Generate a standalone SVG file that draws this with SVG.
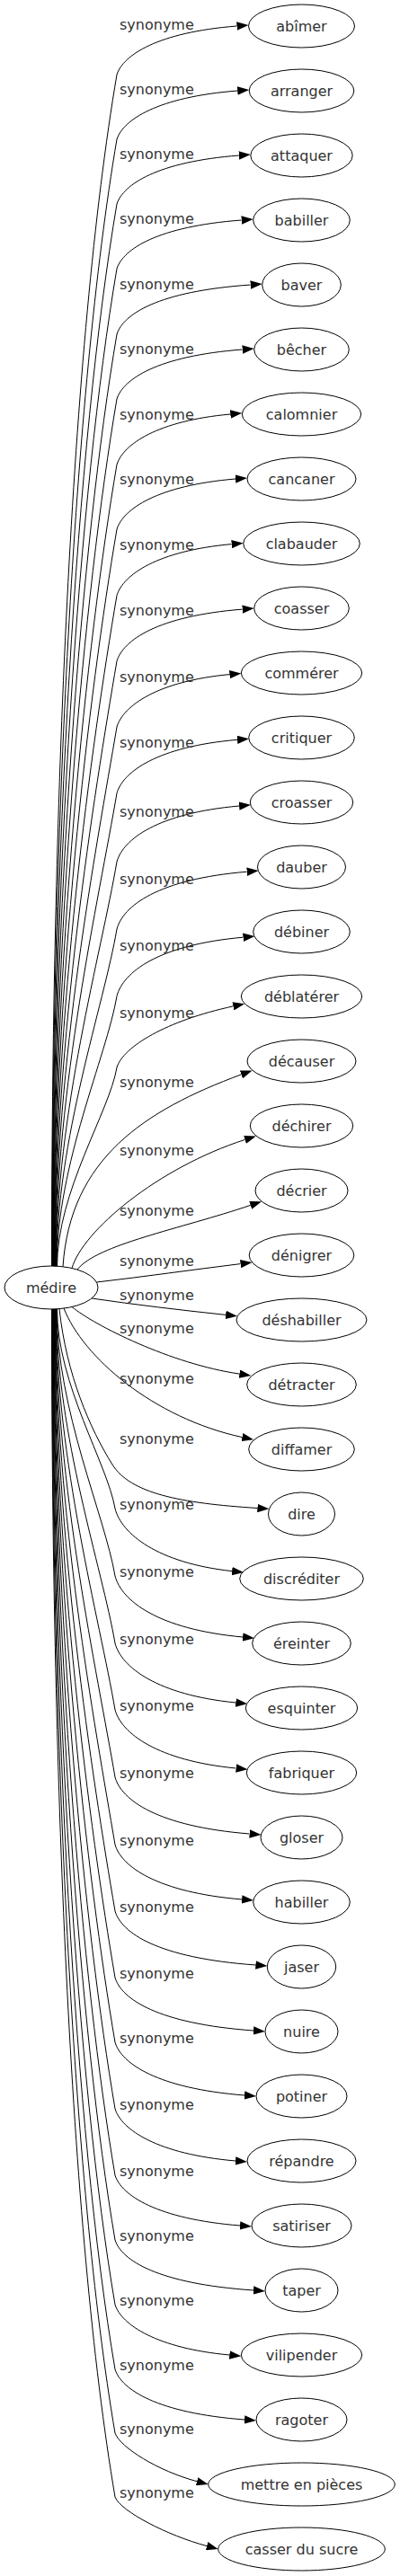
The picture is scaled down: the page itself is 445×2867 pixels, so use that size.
<svg xmlns="http://www.w3.org/2000/svg" width="445" height="2867" viewBox="0 0 445 2867">
<defs>
<marker id="arr" markerUnits="userSpaceOnUse" markerWidth="13" markerHeight="9.4" viewBox="0 0 13 9.4" refX="0" refY="4.7" orient="auto">
<path d="M0,0 L13,4.7 L0,9.4 z" fill="#000"/>
</marker>
</defs>
<style>
text { font-family: "DejaVu Sans", Verdana, sans-serif; font-size: 16px; fill: #333; }
.node ellipse { fill: #fff; stroke: #000; stroke-width: 1; }
.node text { text-anchor: middle; }
#edges path { fill: none; stroke: #000; stroke-width: 1; marker-end: url(#arr); }
</style>
<rect width="445" height="2867" fill="#fff"/>
<g id="edges">
<path d="M57.5,1410 C57.5,905.7 79,382.9 130,83 C137,61.4 175,36 263.5,29"/>
<path d="M57.9,1410 C57.9,933.1 81.8,438.6 130,155 C137,133.4 175,108 264.2,101"/>
<path d="M58.3,1410 C58.3,960.5 84.6,494.4 130,227 C137,205.4 175,180 265.8,173"/>
<path d="M58.7,1410 C58.7,987.8 87.3,550.1 130,299 C137,277.4 175,252 268.7,245"/>
<path d="M59.1,1410 C59.1,1015.6 90.1,606.6 130,372 C137,350 175,324.2 278.7,317"/>
<path d="M59.5,1410 C59.5,1042.9 92.9,662.3 130,444 C137,422 175,396.2 269.7,389"/>
<path d="M59.9,1410 C59.9,1070.7 95.7,718.8 130,517 C137,494.6 175,468.3 256.3,461"/>
<path d="M60.3,1410 C60.3,1098 98.5,774.5 130,589 C137,566.6 175,540.3 262,533"/>
<path d="M60.7,1410 C60.7,1126 101.3,831.5 130,662.6 C137,639.8 175,613 257.7,605.6"/>
<path d="M61.1,1410 C61.1,1153.8 104.1,888.1 130,735.7 C137,712.7 175,685.6 269.7,678.1"/>
<path d="M61.5,1410 C61.5,1181.6 106.9,944.8 130,809 C137,785.6 175,758.2 255.4,750.6"/>
<path d="M61.9,1410 C61.9,1209.6 109.8,1001.9 130,882.7 C137,858.9 175,831 264,823.3"/>
<path d="M62.3,1410 C62.3,1238.6 112.7,1060.9 130,959 C137,934.2 175,905.1 266.1,897"/>
<path d="M62.7,1410 C62.7,1267.1 115.6,1119 130,1034 C137,1008.5 175,978.5 274.7,970.2"/>
<path d="M63.1,1410 C63.1,1295.4 118.4,1176.6 130,1108.5 C137,1082.4 175,1051.7 270.5,1043.2"/>
<path d="M63.5,1410 C63.5,1325.6 121.5,1238.2 130,1188 C137,1165 185,1136 259.4,1119.9"/>
<path d="M70,1409.8 C78,1290 160,1236 268.4,1195.9"/>
<path d="M80,1411.5 C92,1370 175,1300 272.5,1268.4"/>
<path d="M86,1413 C108,1385 200,1368 278.7,1341.4"/>
<path d="M107.5,1427 C160,1421 215,1413 267.6,1406.6"/>
<path d="M102,1445 C150,1452 200,1458 251.1,1463.4"/>
<path d="M80,1454.5 C105,1475 190,1518 266.4,1529.1"/>
<path d="M71,1456 C92,1510 170,1578 269.4,1599.6"/>
<path d="M66,1457 C74,1530 100,1590 125,1630 C145,1662 200,1673 286.4,1678.5"/>
<path d="M63.5,1457 C63.5,1540.7 119.4,1628.6 128,1679 C135,1706.8 175,1739.6 258.1,1748.6"/>
<path d="M63.1,1457 C63.1,1569.2 116.6,1686.7 128,1754 C135,1781.2 175,1813.2 270.1,1822"/>
<path d="M62.7,1457 C62.7,1597.7 113.7,1744.7 128,1829 C135,1855.4 175,1886.4 262.3,1895"/>
<path d="M62.3,1457 C62.3,1625.9 110.8,1802 128,1903 C135,1929 175,1959.5 262.6,1968"/>
<path d="M61.9,1457 C61.9,1654.4 108,1860 128,1978 C135,2003.2 175,2032.8 277.6,2041"/>
<path d="M61.5,1457 C61.5,1682.9 105.1,1918.1 128,2053 C135,2077.4 175,2106.1 269.1,2114"/>
<path d="M61.1,1457 C61.1,1711 102.2,1975.4 128,2127 C135,2151 175,2179.2 284.4,2187"/>
<path d="M60.7,1457 C60.7,1739.1 99.4,2032.6 128,2201 C135,2224.6 175,2252.3 282,2260"/>
<path d="M60.3,1457 C60.3,1766.5 96.6,2088.4 128,2273 C135,2296.6 175,2324.3 272,2332"/>
<path d="M59.9,1457 C59.9,1794.6 93.8,2145.6 128,2347 C135,2370.2 175,2397.5 262,2405"/>
<path d="M59.5,1457 C59.5,1822.7 90.9,2202.9 128,2421 C135,2443.4 175,2469.7 267,2477"/>
<path d="M59.1,1457 C59.1,1850.1 88.2,2258.6 128,2493 C135,2515.4 175,2541.7 282,2549"/>
<path d="M58.7,1457 C58.7,1877.4 85.4,2314.4 128,2565 C135,2587.4 175,2613.7 255.3,2621"/>
<path d="M58.3,1457 C58.3,1904.8 82.6,2370.1 128,2637 C135,2659.4 175,2685.7 272,2693"/>
<path d="M57.9,1457 C57.9,1931.8 79.9,2425 128,2708 C134,2724 175.6,2750 219.1,2761.7"/>
<path d="M57.5,1457 C57.5,1958.7 77.2,2480 128,2779 C134,2795 186.6,2822 230.1,2833.6"/>
<text x="133" y="32.5">synonyme</text>
<text x="133" y="104.5">synonyme</text>
<text x="133" y="176.5">synonyme</text>
<text x="133" y="248.5">synonyme</text>
<text x="133" y="321.5">synonyme</text>
<text x="133" y="393.5">synonyme</text>
<text x="133" y="466.5">synonyme</text>
<text x="133" y="538.5">synonyme</text>
<text x="133" y="612.1">synonyme</text>
<text x="133" y="685.2">synonyme</text>
<text x="133" y="758.5">synonyme</text>
<text x="133" y="832.2">synonyme</text>
<text x="133" y="908.5">synonyme</text>
<text x="133" y="983.5">synonyme</text>
<text x="133" y="1058">synonyme</text>
<text x="133" y="1132.5">synonyme</text>
<text x="133" y="1209.5">synonyme</text>
<text x="133" y="1285.5">synonyme</text>
<text x="133" y="1352.5">synonyme</text>
<text x="133" y="1408.5">synonyme</text>
<text x="133" y="1446.5">synonyme</text>
<text x="133" y="1483.5">synonyme</text>
<text x="133" y="1539.5">synonyme</text>
<text x="133" y="1606.5">synonyme</text>
<text x="133" y="1679.5">synonyme</text>
<text x="133" y="1754.5">synonyme</text>
<text x="133" y="1829.5">synonyme</text>
<text x="133" y="1903.5">synonyme</text>
<text x="133" y="1978.5">synonyme</text>
<text x="133" y="2053.5">synonyme</text>
<text x="133" y="2127.5">synonyme</text>
<text x="133" y="2201.5">synonyme</text>
<text x="133" y="2273.5">synonyme</text>
<text x="133" y="2347.5">synonyme</text>
<text x="133" y="2421.5">synonyme</text>
<text x="133" y="2493.5">synonyme</text>
<text x="133" y="2565.5">synonyme</text>
<text x="133" y="2637.5">synonyme</text>
<text x="133" y="2708.5">synonyme</text>
<text x="133" y="2779.5">synonyme</text>
</g>
<g id="n-medire" class="node"><ellipse cx="57" cy="1433" rx="52" ry="24"/><text x="57" y="1438.5">médire</text></g>
<g id="n-abimer" class="node"><ellipse cx="335.5" cy="29" rx="59" ry="24"/><text x="335.5" y="34.5">abîmer</text></g>
<g id="n-arranger" class="node"><ellipse cx="335.5" cy="101" rx="58.3" ry="24"/><text x="335.5" y="106.5">arranger</text></g>
<g id="n-attaquer" class="node"><ellipse cx="335.5" cy="173" rx="56.7" ry="24"/><text x="335.5" y="178.5">attaquer</text></g>
<g id="n-babiller" class="node"><ellipse cx="335.5" cy="245" rx="53.8" ry="24"/><text x="335.5" y="250.5">babiller</text></g>
<g id="n-baver" class="node"><ellipse cx="335.5" cy="317" rx="43.8" ry="24"/><text x="335.5" y="322.5">baver</text></g>
<g id="n-becher" class="node"><ellipse cx="335.5" cy="389" rx="52.8" ry="24"/><text x="335.5" y="394.5">bêcher</text></g>
<g id="n-calomnier" class="node"><ellipse cx="335.5" cy="461" rx="66.2" ry="24"/><text x="335.5" y="466.5">calomnier</text></g>
<g id="n-cancaner" class="node"><ellipse cx="335.5" cy="533" rx="60.5" ry="24"/><text x="335.5" y="538.5">cancaner</text></g>
<g id="n-clabauder" class="node"><ellipse cx="335.5" cy="605" rx="64.8" ry="24"/><text x="335.5" y="610.5">clabauder</text></g>
<g id="n-coasser" class="node"><ellipse cx="335.5" cy="677" rx="52.8" ry="24"/><text x="335.5" y="682.5">coasser</text></g>
<g id="n-commerer" class="node"><ellipse cx="335.5" cy="749" rx="67.2" ry="24"/><text x="335.5" y="754.5">commérer</text></g>
<g id="n-critiquer" class="node"><ellipse cx="335.5" cy="821" rx="58.8" ry="24"/><text x="335.5" y="826.5">critiquer</text></g>
<g id="n-croasser" class="node"><ellipse cx="335.5" cy="893" rx="57.2" ry="24"/><text x="335.5" y="898.5">croasser</text></g>
<g id="n-dauber" class="node"><ellipse cx="335.5" cy="965" rx="49" ry="24"/><text x="335.5" y="970.5">dauber</text></g>
<g id="n-debiner" class="node"><ellipse cx="335.5" cy="1037" rx="53.8" ry="24"/><text x="335.5" y="1042.5">débiner</text></g>
<g id="n-deblaterer" class="node"><ellipse cx="335.5" cy="1109" rx="67.2" ry="24"/><text x="335.5" y="1114.5">déblatérer</text></g>
<g id="n-decauser" class="node"><ellipse cx="335.5" cy="1181" rx="60.5" ry="24"/><text x="335.5" y="1186.5">décauser</text></g>
<g id="n-dechirer" class="node"><ellipse cx="335.5" cy="1253" rx="57.2" ry="24"/><text x="335.5" y="1258.5">déchirer</text></g>
<g id="n-decrier" class="node"><ellipse cx="335.5" cy="1325" rx="51.5" ry="24"/><text x="335.5" y="1330.5">décrier</text></g>
<g id="n-denigrer" class="node"><ellipse cx="335.5" cy="1397" rx="58.3" ry="24"/><text x="335.5" y="1402.5">dénigrer</text></g>
<g id="n-deshabiller" class="node"><ellipse cx="335.5" cy="1469" rx="72.5" ry="24"/><text x="335.5" y="1474.5">déshabiller</text></g>
<g id="n-detracter" class="node"><ellipse cx="335.5" cy="1541" rx="60.8" ry="24"/><text x="335.5" y="1546.5">détracter</text></g>
<g id="n-diffamer" class="node"><ellipse cx="335.5" cy="1613" rx="58.8" ry="24"/><text x="335.5" y="1618.5">diffamer</text></g>
<g id="n-dire" class="node"><ellipse cx="335.5" cy="1685" rx="37" ry="24"/><text x="335.5" y="1690.5">dire</text></g>
<g id="n-discrediter" class="node"><ellipse cx="335.5" cy="1757" rx="68.8" ry="24"/><text x="335.5" y="1762.5">discréditer</text></g>
<g id="n-ereinter" class="node"><ellipse cx="335.5" cy="1829" rx="54.8" ry="24"/><text x="335.5" y="1834.5">éreinter</text></g>
<g id="n-esquinter" class="node"><ellipse cx="335.5" cy="1901" rx="62.2" ry="24"/><text x="335.5" y="1906.5">esquinter</text></g>
<g id="n-fabriquer" class="node"><ellipse cx="335.5" cy="1973" rx="61.2" ry="24"/><text x="335.5" y="1978.5">fabriquer</text></g>
<g id="n-gloser" class="node"><ellipse cx="335.5" cy="2045" rx="45.5" ry="24"/><text x="335.5" y="2050.5">gloser</text></g>
<g id="n-habiller" class="node"><ellipse cx="335.5" cy="2117" rx="53.8" ry="24"/><text x="335.5" y="2122.5">habiller</text></g>
<g id="n-jaser" class="node"><ellipse cx="335.5" cy="2189" rx="38.2" ry="24"/><text x="335.5" y="2194.5">jaser</text></g>
<g id="n-nuire" class="node"><ellipse cx="335.5" cy="2261" rx="40.5" ry="24"/><text x="335.5" y="2266.5">nuire</text></g>
<g id="n-potiner" class="node"><ellipse cx="335.5" cy="2333" rx="50.5" ry="24"/><text x="335.5" y="2338.5">potiner</text></g>
<g id="n-repandre" class="node"><ellipse cx="335.5" cy="2405" rx="60.5" ry="24"/><text x="335.5" y="2410.5">répandre</text></g>
<g id="n-satiriser" class="node"><ellipse cx="335.5" cy="2477" rx="55.5" ry="24"/><text x="335.5" y="2482.5">satiriser</text></g>
<g id="n-taper" class="node"><ellipse cx="335.5" cy="2549" rx="40.5" ry="24"/><text x="335.5" y="2554.5">taper</text></g>
<g id="n-vilipender" class="node"><ellipse cx="335.5" cy="2621" rx="67.2" ry="24"/><text x="335.5" y="2626.5">vilipender</text></g>
<g id="n-ragoter" class="node"><ellipse cx="335.5" cy="2693" rx="50.5" ry="24"/><text x="335.5" y="2698.5">ragoter</text></g>
<g id="n-mettre-en-pieces" class="node"><ellipse cx="335.5" cy="2765" rx="103.8" ry="24"/><text x="335.5" y="2770.5">mettre en pièces</text></g>
<g id="n-casser-du-sucre" class="node"><ellipse cx="335.5" cy="2837" rx="92.8" ry="24"/><text x="335.5" y="2842.5">casser du sucre</text></g>
</svg>
